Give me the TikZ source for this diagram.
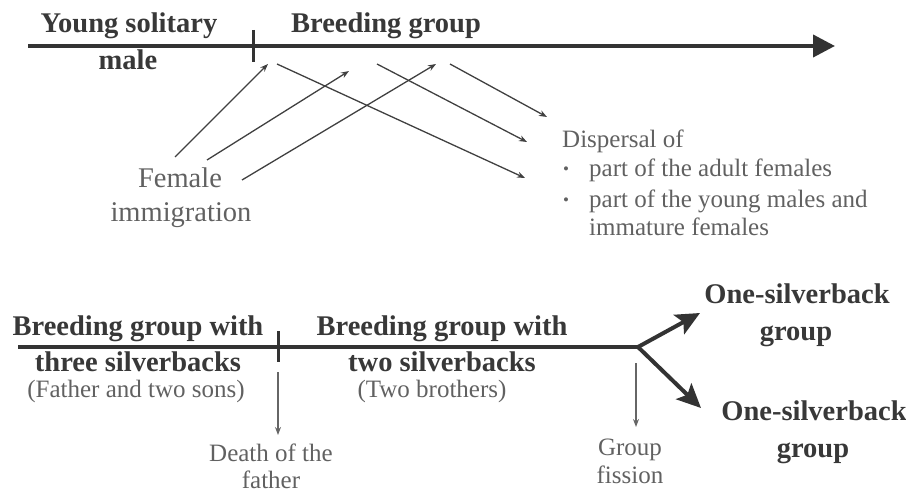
\documentclass[tikz,border=0pt]{standalone}
\usepackage{fontspec}
\setmainfont{Liberation Serif}
\usetikzlibrary{arrows.meta}
\begin{document}
\begin{tikzpicture}[x=1pt,y=-1pt,
  bigtxt/.style={font=\fontsize{28.5}{32}\selectfont\bfseries, text=black!78, inner sep=0pt, anchor=base},
  midtxt/.style={font=\fontsize{28.5}{32}\selectfont, text=black!62, inner sep=0pt, anchor=base},
  smalltxt/.style={font=\fontsize{25}{28}\selectfont, text=black!62, inner sep=0pt, anchor=base},
  paren/.style={font=\fontsize{25}{28}\selectfont, text=black!62, inner sep=0pt, anchor=base},
  bul/.style={font=\fontsize{17}{17}\selectfont, text=black!62, inner sep=0pt, anchor=base},
  mainline/.style={draw=black!80, line width=4pt},
  tickline/.style={draw=black!80, line width=3pt},
  thinarrow/.style={draw=black!75, line width=1.3pt, -{Stealth[length=8pt,width=6pt]}},
  fork/.style={draw=black!80, line width=4pt, -{Stealth[length=24pt,width=22pt,inset=5pt]}},
]
\useasboundingbox (0,0) rectangle (906,492);

% ---------- top timeline ----------
\coordinate (t0) at (28,46);
\coordinate (t1) at (835,46);
\draw[mainline, -{Triangle[length=22pt,width=22pt]}] (t0) -- (t1);
\coordinate (k1a) at (253,30);
\coordinate (k1b) at (253,62);
\draw[tickline] (k1a) -- (k1b);

\node[bigtxt] (ys1) at (129,33) {Young solitary};
\node[bigtxt] (ys2) at (128,70) {male};
\node[bigtxt] (bg) at (386,33) {Breeding group};

\node[midtxt] (fi1) at (180,188) {Female};
\node[midtxt] (fi2) at (181,222) {immigration};

\node[smalltxt, anchor=base west] (dp0) at (562,148) {Dispersal of};
\node[bul] (b1) at (566,175) {•};
\node[smalltxt, anchor=base west] (dp1) at (589,177) {part of the adult females};
\node[bul] (b2) at (566,206) {•};
\node[smalltxt, anchor=base west] (dp2) at (589,208) {part of the young males and};
\node[smalltxt, anchor=base west] (dp3) at (589,236) {immature females};

% immigration arrows
\coordinate (im1s) at (175,157); \coordinate (im1e) at (268,64);
\coordinate (im2s) at (207,160); \coordinate (im2e) at (349,71);
\coordinate (im3s) at (242,180); \coordinate (im3e) at (436,64);
\draw[thinarrow] (im1s) -- (im1e);
\draw[thinarrow] (im2s) -- (im2e);
\draw[thinarrow] (im3s) -- (im3e);

% dispersal arrows
\coordinate (d1s) at (277,64); \coordinate (d1e) at (525,178);
\coordinate (d2s) at (377,64); \coordinate (d2e) at (527,142);
\coordinate (d3s) at (450,64); \coordinate (d3e) at (547,117);
\draw[thinarrow] (d1s) -- (d1e);
\draw[thinarrow] (d2s) -- (d2e);
\draw[thinarrow] (d3s) -- (d3e);

% ---------- bottom timeline ----------
\coordinate (b0) at (18,347);
\coordinate (fk) at (638,347);
\draw[mainline] (b0) -- (fk);
\coordinate (k2a) at (278,331);
\coordinate (k2b) at (278,362);
\draw[tickline] (k2a) -- (k2b);
\coordinate (up) at (700,313);
\coordinate (dn) at (701,408);
\draw[fork] (fk) -- (up);
\draw[fork] (fk) -- (dn);

\node[bigtxt] (g3a) at (138,335) {Breeding group with};
\node[bigtxt] (g3b) at (138,371) {three silverbacks};
\node[paren] (g3c) at (136,397) {(Father and two sons)};
\node[bigtxt] (g2a) at (442,335) {Breeding group with};
\node[bigtxt] (g2b) at (442,371) {two silverbacks};
\node[paren] (g2c) at (432,397) {(Two brothers)};

\node[bigtxt] (o1a) at (797,303) {One-silverback};
\node[bigtxt] (o1b) at (796,340) {group};
\node[bigtxt] (o2a) at (814,420) {One-silverback};
\node[bigtxt] (o2b) at (813,457) {group};

% death of the father
\coordinate (da) at (278,372);
\coordinate (db) at (278,435);
\draw[thinarrow, draw=black!60] (da) -- (db);
\node[smalltxt] (df1) at (271,461) {Death of the};
\node[smalltxt] (df2) at (271,488) {father};

% group fission
\coordinate (fa) at (636,363);
\coordinate (fb) at (636,427);
\draw[thinarrow, draw=black!60] (fa) -- (fb);
\node[smalltxt] (gf1) at (630,455) {Group};
\node[smalltxt] (gf2) at (630,483) {fission};
\end{tikzpicture}
\end{document}
